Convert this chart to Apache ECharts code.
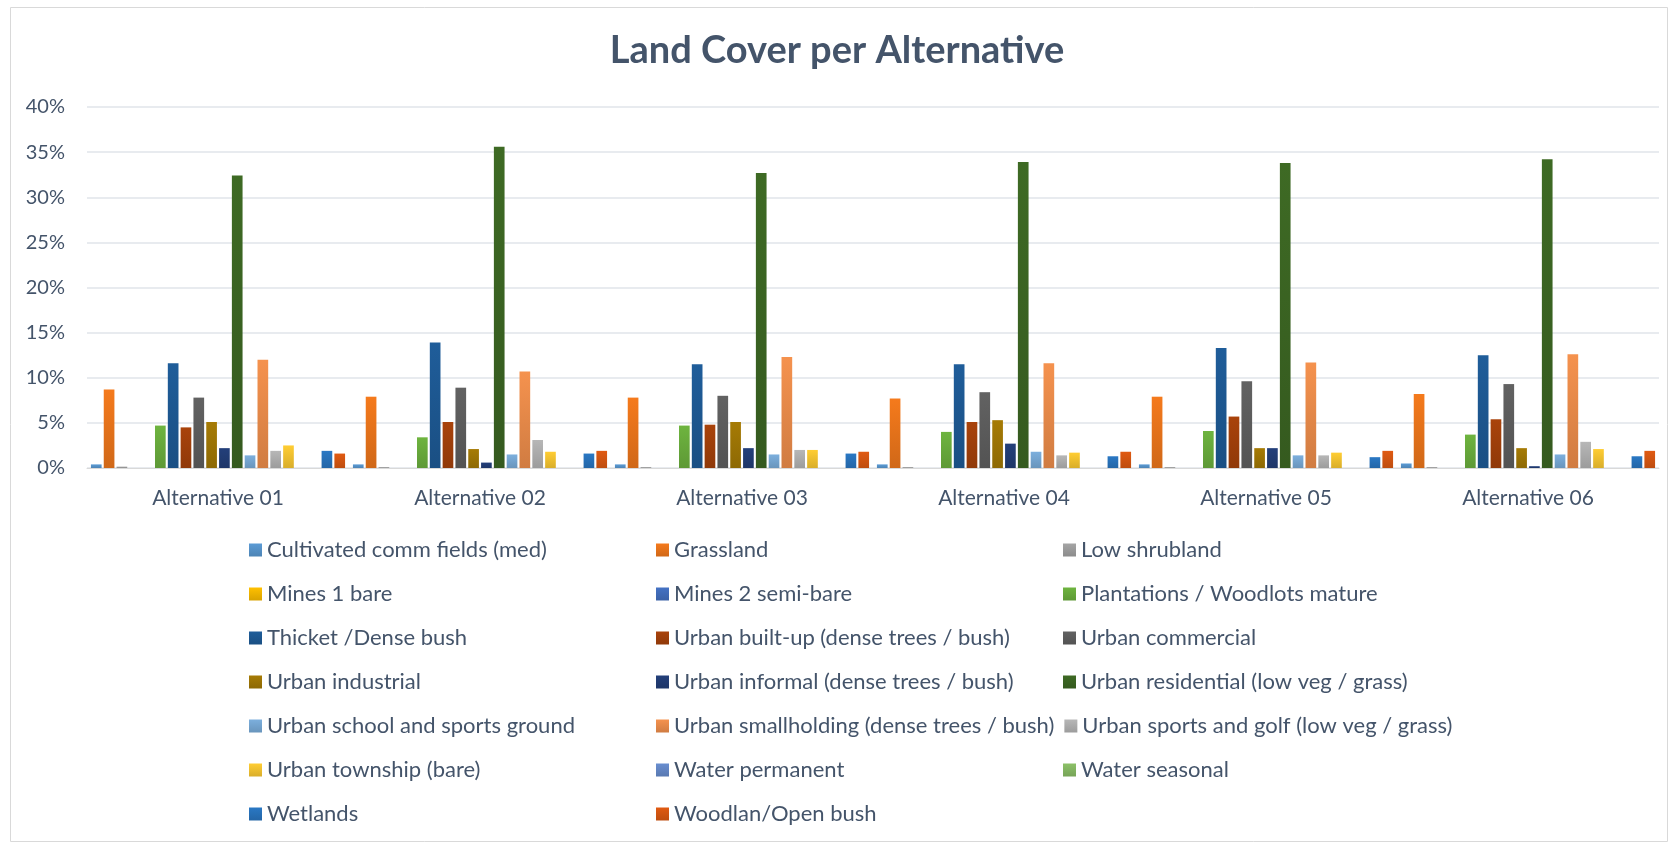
<!DOCTYPE html>
<html>
<head>
<meta charset="utf-8">
<script src="https://cdn.jsdelivr.net/npm/echarts@6/dist/echarts.min.js"></script>
<style>
html,body{margin:0;padding:0;background:#fff;}
#chart{width:1674px;height:843px;}
</style>
</head>
<body>
<div id="chart"></div>
<script>
const categories = ['Alternative 01','Alternative 02','Alternative 03','Alternative 04','Alternative 05','Alternative 06'];
const yTicks = [0,5,10,15,20,25,30,35,40];

const seriesNames = [
  'Cultivated comm fields (med)','Grassland','Low shrubland',
  'Mines 1 bare','Mines 2 semi-bare','Plantations / Woodlots mature',
  'Thicket /Dense bush','Urban built-up (dense trees / bush)','Urban commercial',
  'Urban industrial','Urban informal (dense trees / bush)','Urban residential (low veg / grass)',
  'Urban school and sports ground','Urban smallholding (dense trees / bush)','Urban sports and golf (low veg / grass)',
  'Urban township (bare)','Water permanent','Water seasonal',
  'Wetlands','Woodlan/Open bush'
];

// values in percent
const cultivated     = [0.4, 0.4, 0.4, 0.4, 0.4, 0.5];
const grassland      = [8.7, 7.9, 7.8, 7.7, 7.9, 8.2];
const lowShrubland   = [0.15, 0.1, 0.1, 0.1, 0.1, 0.1];
const mines1Bare     = [0, 0, 0, 0, 0, 0];
const mines2SemiBare = [0, 0, 0, 0, 0, 0];
const plantations    = [4.7, 3.4, 4.7, 4.0, 4.1, 3.7];
const thicket        = [11.6, 13.9, 11.5, 11.5, 13.3, 12.5];
const builtUp        = [4.5, 5.1, 4.8, 5.1, 5.7, 5.4];
const commercial     = [7.8, 8.9, 8.0, 8.4, 9.6, 9.3];
const industrial     = [5.1, 2.1, 5.1, 5.3, 2.2, 2.2];
const informal       = [2.2, 0.6, 2.2, 2.7, 2.2, 0.2];
const residential    = [32.4, 35.6, 32.7, 33.9, 33.8, 34.2];
const school         = [1.4, 1.5, 1.5, 1.8, 1.4, 1.5];
const smallholding   = [12.0, 10.7, 12.3, 11.6, 11.7, 12.6];
const sportsGolf     = [1.9, 3.1, 2.0, 1.4, 1.4, 2.9];
const township       = [2.5, 1.8, 2.0, 1.7, 1.7, 2.1];
const waterPermanent = [0, 0, 0, 0, 0, 0];
const waterSeasonal  = [0, 0, 0, 0, 0, 0];
const wetlands       = [1.9, 1.6, 1.6, 1.3, 1.2, 1.3];
const woodland       = [1.6, 1.9, 1.8, 1.8, 1.9, 1.9];

const seriesValues = [cultivated, grassland, lowShrubland, mines1Bare, mines2SemiBare, plantations,
  thicket, builtUp, commercial, industrial, informal, residential,
  school, smallholding, sportsGolf, township, waterPermanent, waterSeasonal, wetlands, woodland];

const colors = ['#5B9BD5','#F57A1C','#A5A5A5','#FFC000','#4472C4','#6EB43F',
  '#1F5D9A','#A9430B','#626262','#A67B05','#233F7A','#3E6A24',
  '#7CAFDD','#F5924E','#B7B7B7','#FFCD33','#698ED0','#8CC168','#2A78C4','#E05A12'];

function shade(hex, f){
  const n = parseInt(hex.slice(1),16);
  let r=(n>>16)&255,g=(n>>8)&255,b=n&255;
  r=Math.round(r*f);g=Math.round(g*f);b=Math.round(b*f);
  return 'rgb('+r+','+g+','+b+')';
}

const chart = echarts.init(document.getElementById('chart'));
const textColor = '#44546A';
const series = seriesNames.map((name,i)=>({
  name: name,
  type: 'bar',
  data: seriesValues[i],
  barGap: '20%',
  barCategoryGap: '3%',
  itemStyle: {
    color: new echarts.graphic.LinearGradient(0,0,0,1,[
      {offset:0,color:colors[i]},{offset:1,color:shade(colors[i],0.85)}
    ])
  }
}));

chart.setOption({
  animation: false,
  color: colors,
  title: {
    text: 'Land Cover per Alternative',
    left: 'center',
    top: 27,
    textStyle: {fontFamily:'Lato', fontWeight:'bold', fontSize:38, color:textColor}
  },
  graphic: [{
    type:'rect', left:8, top:5, shape:{width:1657, height:834},
    style:{fill:'none', stroke:'#D9D9D9', lineWidth:1}, silent:true
  }],
  legend: {
    left: 244, top: 528, width: 1240,
    itemWidth: 13, itemHeight: 13, itemGap: 10,
    icon: 'rect',
    textStyle: {fontFamily:'Lato', fontSize:22, color:textColor, width:379, lineHeight:34}
  },
  grid: {left: 87, right: 15, top: 107, bottom: 843-468},
  xAxis: {
    type: 'category',
    data: categories,
    axisTick: {show:false},
    axisLine: {lineStyle:{color:'#D9D9D9'}},
    axisLabel: {fontFamily:'Lato', fontSize:21, color:textColor, margin:20}
  },
  yAxis: {
    type: 'value',
    min: 0, max: 40, interval: 5,
    axisLabel: {fontFamily:'Lato', fontSize:20, color:textColor, margin:22,
      formatter: v => yTicks.indexOf(v) >= 0 ? v + '%' : ''},
    splitLine: {lineStyle:{color:'#E1E4EA', width:1.5}},
    axisLine: {show:false}, axisTick: {show:false}
  },
  series: series
});
</script>
</body>
</html>
